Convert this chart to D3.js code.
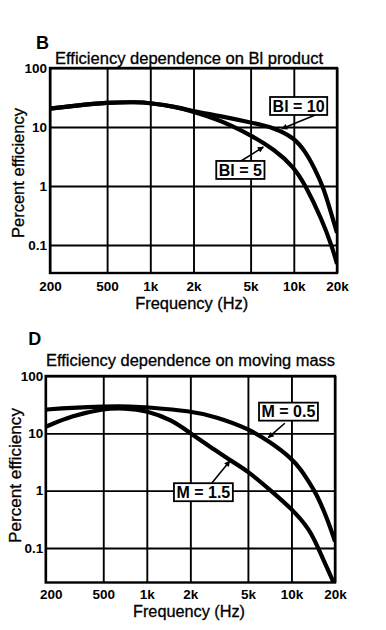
<!DOCTYPE html>
<html><head><meta charset="utf-8">
<script src="https://cdn.jsdelivr.net/npm/d3@7"></script>
<style>
body{margin:0;background:#fff;}
svg{display:block;font-family:"Liberation Sans",Arial,Helvetica,sans-serif;}
</style></head><body>
<svg id="chart" width="386" height="630"></svg>
<script>
// ---- shared tick data ----
const freqTicks = [200, 500, 1000, 2000, 5000, 10000, 20000];
const freqTickLabels = ["200", "500", "1k", "2k", "5k", "10k", "20k"];
const effTicks = [0.1, 1, 10, 100];
const effTickLabels = ["0.1", "1", "10", "100"];

// ---- Panel B: Bl product ----
const freqBl10 = [200, 300, 500, 800, 1000, 1500, 2000, 3000, 5000, 7400, 10000, 12000, 14100, 16200, 18000, 20000];
const effBl10  = [20.5, 23, 26, 26.5, 25.5, 22, 18.5, 15.5, 12.0, 9.6, 6.6, 3.9, 1.9, 0.9, 0.38, 0.16];
const freqBl5  = [200, 300, 500, 800, 1000, 1500, 2000, 3000, 3600, 5000, 7400, 10000, 12000, 15700, 18300, 20000];
const effBl5   = [20.5, 23, 26, 26.5, 25.5, 22, 18.2, 13.1, 10.8, 7.3, 4.1, 2.1, 1.05, 0.27, 0.1, 0.048];
const labelsB     = ["Bl = 10", "Bl = 5"];
const labelFreqB  = [10800, 4240];
const labelEffB   = [22.7, 1.87];
const arrowFromFreqB = [14100, 4260];
const arrowFromEffB  = [15.9, 2.63];
const arrowToFreqB   = [8250, 6130];
const arrowToEffB    = [9.3, 4.58];

// ---- Panel D: moving mass ----
const freqM05 = [200, 300, 500, 800, 1000, 2000, 3000, 5000, 7100, 10000, 11700, 13400, 14800, 17500, 20000];
const effM05  = [26, 28, 29.5, 29.5, 28.5, 24.6, 19.5, 12.2, 7.1, 3.7, 2.3, 1.34, 0.9, 0.35, 0.13];
const freqM15 = [200, 300, 500, 700, 1000, 1500, 2000, 3000, 3750, 5000, 7100, 10000, 13400, 15300, 17500, 20000];
const effM15  = [13, 20, 27, 27.5, 25, 17, 10, 5.0, 3.4, 2.2, 1.03, 0.49, 0.21, 0.1, 0.047, 0.022];
const labelsD     = ["M = 0.5", "M = 1.5"];
const labelFreqD  = [9530, 2460];
const labelEffD   = [23.9, 0.94];
const arrowFromFreqD = [9000, 2810];
const arrowFromEffD  = [15.0, 1.34];
const arrowToFreqD   = [6910, 3750];
const arrowToEffD    = [8.4, 3.3];

const svg = d3.select("#chart");
svg.append("rect").attr("width", 386).attr("height", 630).attr("fill", "#fff");

const defs = svg.append("defs");
defs.append("marker").attr("id", "arrow")
  .attr("viewBox", "0 0 10 10").attr("refX", 9).attr("refY", 5)
  .attr("markerWidth", 7).attr("markerHeight", 6).attr("markerUnits", "userSpaceOnUse")
  .attr("orient", "auto")
  .append("path").attr("d", "M0,0 L10,5 L0,10 z").attr("fill", "#000");

const panels = [
  {
    id: "B", letter: "B", title: "Efficiency dependence on Bl product",
    series: [[freqBl10, effBl10], [freqBl5, effBl5]],
    labels: labelsB, lf: labelFreqB, le: labelEffB,
    af: arrowFromFreqB, ae: arrowFromEffB, tf: arrowToFreqB, te: arrowToEffB,
    yMin: 0.0335, left: 50, right: 337, top: 68, bottom: 273,
    letterX: 36, letterY: 48.5, titleX: 55, titleY: 63.5, titleLen: 268,
    xPad: 8.4, yPad: 3, xlabX: 191.7, xlabY: 308.6, xlabLen: 113,
    ylabX: 23.5, ylabY: 173, ylabLen: 130, firstDx: 0
  },
  {
    id: "D", letter: "D", title: "Efficiency dependence on moving mass",
    series: [[freqM05, effM05], [freqM15, effM15]],
    labels: labelsD, lf: labelFreqD, le: labelEffD,
    af: arrowFromFreqD, ae: arrowFromEffD, tf: arrowToFreqD, te: arrowToEffD,
    yMin: 0.025, left: 45.7, right: 335, top: 376, bottom: 582.5,
    letterX: 28.3, letterY: 345, titleX: 46, titleY: 366, titleLen: 289,
    xPad: 6.9, yPad: 2.5, xlabX: 189, xlabY: 616.5, xlabLen: 112,
    ylabX: 21, ylabY: 475.5, ylabLen: 135, firstDx: 5
  }
];

panels.forEach(p => {
  const x = d3.scaleLog().domain([200, 20000]).range([p.left, p.right]);
  const y = d3.scaleLog().domain([p.yMin, 100]).range([p.bottom, p.top]);
  const w = p.right - p.left, h = p.bottom - p.top;
  const g = svg.append("g");

  g.append("text").attr("x", p.letterX).attr("y", p.letterY)
    .attr("font-size", 18).attr("font-weight", "bold").text(p.letter);
  g.append("text").attr("x", p.titleX).attr("y", p.titleY)
    .attr("font-size", 16).attr("stroke", "#000").attr("stroke-width", 0.3)
    .attr("textLength", p.titleLen).attr("lengthAdjust", "spacingAndGlyphs")
    .text(p.title);

  const xAxis = d3.axisBottom(x).tickValues(freqTicks)
    .tickFormat((d, i) => freqTickLabels[i]).tickSize(-h).tickPadding(p.xPad);
  const gx = g.append("g").attr("transform", `translate(0,${p.bottom})`).call(xAxis);
  gx.select(".domain").remove();
  gx.selectAll("line").attr("stroke", "#000").attr("stroke-width", 1.9);
  gx.selectAll("text").attr("font-size", 13.5).attr("font-weight", "bold")
    .attr("font-family", '"Liberation Sans",Arial,sans-serif').attr("fill", "#000");
  gx.selectAll(".tick").filter((d, i) => i === 0).select("text").attr("dx", p.firstDx);

  const yAxis = d3.axisLeft(y).tickValues(effTicks)
    .tickFormat((d, i) => effTickLabels[i]).tickSize(-w).tickPadding(p.yPad);
  const gy = g.append("g").attr("transform", `translate(${p.left},0)`).call(yAxis);
  gy.select(".domain").remove();
  gy.selectAll("line").attr("stroke", "#000").attr("stroke-width", 1.9);
  gy.selectAll("text").attr("font-size", 13.5).attr("font-weight", "bold")
    .attr("font-family", '"Liberation Sans",Arial,sans-serif').attr("fill", "#000");

  g.append("rect").attr("x", p.left).attr("y", p.top).attr("width", w).attr("height", h)
    .attr("fill", "none").attr("stroke", "#000").attr("stroke-width", 2.4);

  g.append("text").attr("x", p.xlabX).attr("y", p.xlabY).attr("text-anchor", "middle")
    .attr("font-size", 16).attr("stroke", "#000").attr("stroke-width", 0.3)
    .attr("textLength", p.xlabLen).attr("lengthAdjust", "spacingAndGlyphs")
    .text("Frequency (Hz)");
  g.append("text").attr("transform", `translate(${p.ylabX},${p.ylabY}) rotate(-90)`)
    .attr("text-anchor", "middle")
    .attr("font-size", 16.5).attr("stroke", "#000").attr("stroke-width", 0.3)
    .attr("textLength", p.ylabLen).attr("lengthAdjust", "spacingAndGlyphs")
    .text("Percent efficiency");

  const clipId = "clip" + p.id;
  defs.append("clipPath").attr("id", clipId).append("rect")
    .attr("x", p.left).attr("y", p.top).attr("width", w).attr("height", h);
  const line = d3.line().x(d => x(d[0])).y(d => y(d[1])).curve(d3.curveBasis);
  p.series.forEach(([fs, vs]) => {
    g.append("path").datum(fs.map((f, i) => [f, vs[i]]))
      .attr("clip-path", `url(#${clipId})`)
      .attr("d", line).attr("fill", "none").attr("stroke", "#000")
      .attr("stroke-width", 4.2).attr("stroke-linejoin", "round");
  });

  p.labels.forEach((txt, i) => {
    g.append("line")
      .attr("x1", x(p.af[i])).attr("y1", y(p.ae[i]))
      .attr("x2", x(p.tf[i])).attr("y2", y(p.te[i]))
      .attr("stroke", "#000").attr("stroke-width", 1.6).attr("marker-end", "url(#arrow)");
    const cx = x(p.lf[i]), cy = y(p.le[i]);
    const rect = g.append("rect");
    const t = g.append("text").attr("x", cx).attr("y", cy).attr("dy", "0.36em")
      .attr("text-anchor", "middle").attr("font-size", 16).attr("font-weight", "bold")
      .text(txt);
    const bb = t.node().getBBox();
    rect.attr("x", bb.x - 2.5).attr("y", cy - 9).attr("width", bb.width + 5).attr("height", 18)
      .attr("fill", "#fff").attr("stroke", "#000").attr("stroke-width", 1.8);
  });
});
</script>
</body></html>
